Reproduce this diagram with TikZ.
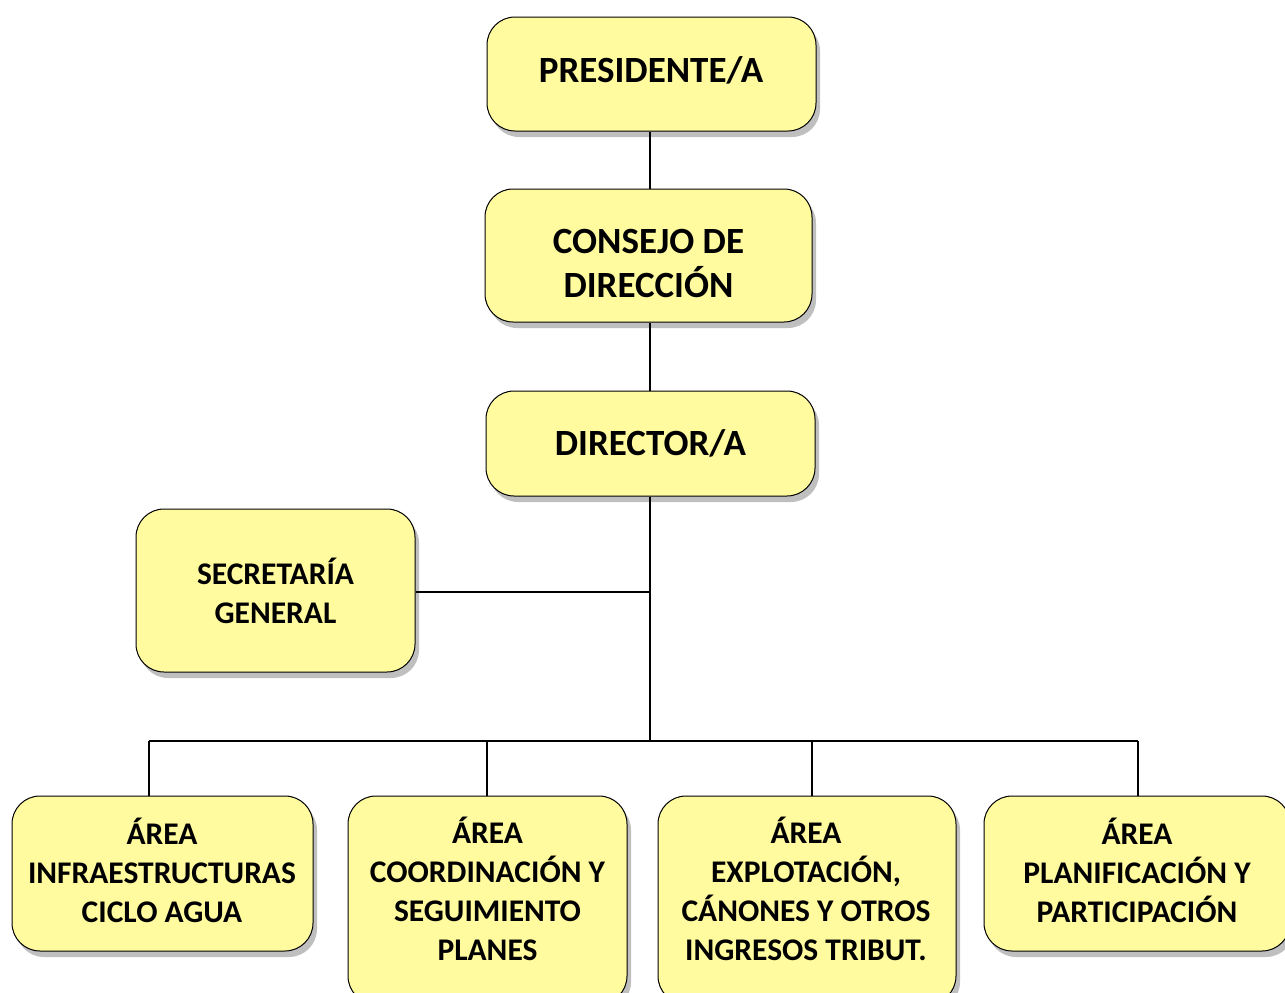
\documentclass[tikz,border=0pt]{standalone}
\usepackage{fontspec}
\setmainfont{Carlito}
\usetikzlibrary{shadows}
\definecolor{boxfill}{HTML}{FFFB9E}
\tikzset{
  orgbox/.style={draw=black, line width=1pt, fill=boxfill, rounded corners=28pt,
    align=center, inner sep=0pt, anchor=center,
    drop shadow={opacity=0.5, shadow xshift=4pt, shadow yshift=-6pt},
    font=\fontsize{31.5}{39}\selectfont\bfseries},
  bigtext/.style={font=\fontsize{37}{44}\selectfont\bfseries},
  boxtext/.style={align=center, inner sep=0pt, font=\fontsize{31.5}{39}\selectfont\bfseries},
  conn/.style={line width=1.8pt, draw=black}
}
\begin{document}
\begin{tikzpicture}[x=1pt,y=-1pt]
\useasboundingbox (0,0) rectangle (1285,993);
\node[orgbox,minimum width=329pt,minimum height=114pt] (pres) at (651.5,74) {};
\node[boxtext,bigtext] (prest) at (651,70) {PRESIDENTE/A};
\node[orgbox,minimum width=327pt,minimum height=133pt] (cons) at (648.5,255.5) {};
\node[boxtext,bigtext] (const) at (648.5,263) {CONSEJO DE\\DIRECCIÓN};
\node[orgbox,bigtext,minimum width=329pt,minimum height=105pt] (dir) at (650.5,443.5) {DIRECTOR/A};
\node[orgbox,minimum width=279pt,minimum height=163pt] (sec) at (275.5,590.5) {SECRETARÍA\\GENERAL};
\node[orgbox,minimum width=301pt,minimum height=155pt] (a1) at (162.5,873.5) {};
\node[boxtext] (a1t) at (162,870) {ÁREA\\INFRAESTRUCTURAS\\CICLO AGUA};
\node[orgbox,minimum width=279pt,minimum height=208pt] (a2) at (487.5,900) {};
\node[boxtext] (a2t) at (487.5,889) {ÁREA\\COORDINACIÓN Y\\SEGUIMIENTO\\PLANES};
\node[orgbox,minimum width=298pt,minimum height=208pt] (a3) at (807,900) {};
\node[boxtext] (a3t) at (806,889) {ÁREA\\EXPLOTACIÓN,\\CÁNONES Y OTROS\\INGRESOS TRIBUT.};
\node[orgbox,minimum width=306pt,minimum height=155pt] (a4) at (1137,873.5) {};
\node[boxtext] (a4t) at (1137,870) {ÁREA\\PLANIFICACIÓN Y\\PARTICIPACIÓN};
\coordinate (jsec) at (650,592);
\coordinate (bus) at (650,741);
\draw[conn] (bus |- pres.south) -- (bus |- cons.north);
\draw[conn] (bus |- cons.south) -- (bus |- dir.north);
\draw[conn] (bus |- dir.south) -- (bus);
\draw[conn] (sec.east |- jsec) -- (jsec);
\draw[conn] (149,741) coordinate (b1) -- (1138,741) coordinate (b4);
\draw[conn] (b1) -- (b1 |- a1.north);
\draw[conn] (487,741) coordinate (b2) -- (b2 |- a2.north);
\draw[conn] (812,741) coordinate (b3) -- (b3 |- a3.north);
\draw[conn] (b4) -- (b4 |- a4.north);
\end{tikzpicture}
\end{document}
